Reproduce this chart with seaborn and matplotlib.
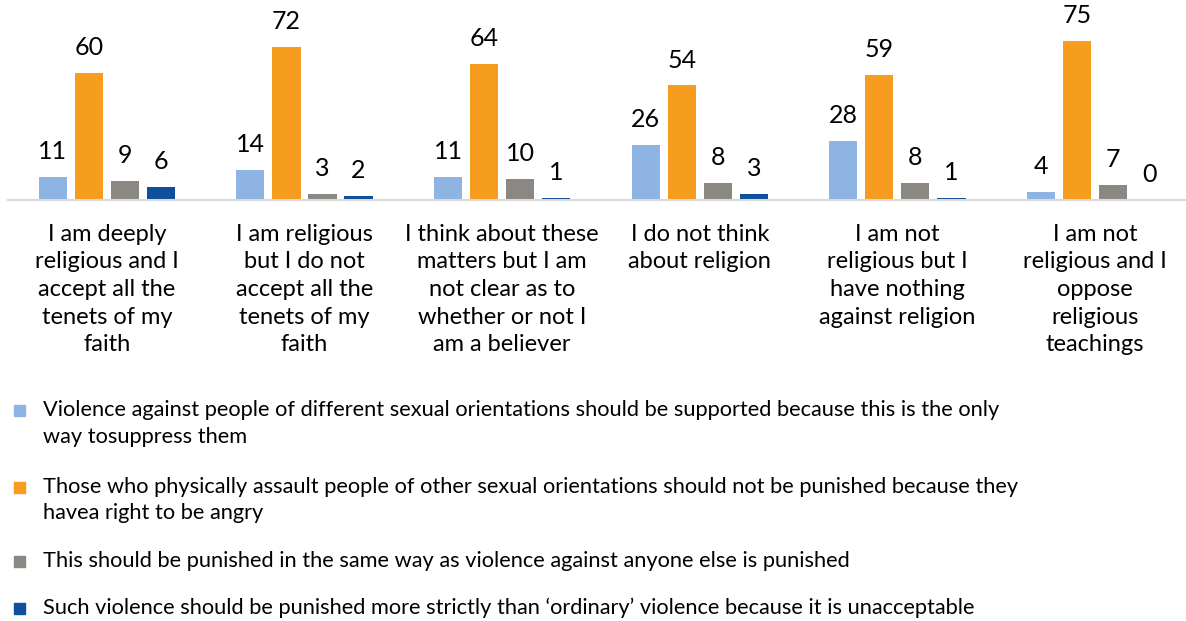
import matplotlib
matplotlib.use("Agg")
import matplotlib.pyplot as plt
from matplotlib.patches import Rectangle
import seaborn as sns
import pandas as pd

categories = [
    "I am deeply\nreligious and I\naccept all the\ntenets of my\nfaith",
    "I am religious\nbut I do not\naccept all the\ntenets of my\nfaith",
    "I think about these\nmatters but I am\nnot clear as to\nwhether or not I\nam a believer",
    "I do not think\nabout religion",
    "I am not\nreligious but I\nhave nothing\nagainst religion",
    "I am not\nreligious and I\noppose\nreligious\nteachings",
]

series_names = [
    "Violence against people of different sexual orientations should be supported because this is the only\nway tosuppress them",
    "Those who physically assault people of other sexual orientations should not be punished because they\nhavea right to be angry",
    "This should be punished in the same way as violence against anyone else is punished",
    "Such violence should be punished more strictly than \u2018ordinary\u2019 violence because it is unacceptable",
]

support_violence = [11, 14, 11, 26, 28, 4]
no_punishment = [60, 72, 64, 54, 59, 75]
same_punishment = [9, 3, 10, 8, 8, 7]
stricter_punishment = [6, 2, 1, 3, 1, 0]

colors = ["#8EB4E3", "#F69C1E", "#8B8782", "#0F4F9C"]

values = [support_violence, no_punishment, same_punishment, stricter_punishment]
rows = []
for name, vals in zip(series_names, values):
    for cat, v in zip(categories, vals):
        rows.append({"category": cat, "series": name, "value": v})
df = pd.DataFrame(rows)

sns.set_theme(style="white")
plt.rcParams["font.family"] = ["Lato", "DejaVu Sans"]

W, H = 1186, 621
fig = plt.figure(figsize=(W / 100, H / 100), dpi=100)
ax = fig.add_axes([8 / W, (H - 200) / H, (W - 8) / W, 200 / H])

sns.barplot(
    data=df, x="category", y="value", hue="series",
    hue_order=series_names, order=categories, palette=colors,
    saturation=1, width=0.729, gap=0.22, linewidth=0,
    legend=False, ax=ax,
)

for container in ax.containers:
    ax.bar_label(container, fmt="%g", padding=10, fontsize=18, color="#000000")

ax.set_xlim(-0.5, 5.46)
ax.set_ylim(0, 94.3)
ax.set_xlabel("")
ax.set_ylabel("")
ax.set_yticks([])
ax.tick_params(axis="x", length=0, pad=17, labelsize=17, labelcolor="#000000")
for lbl in ax.get_xticklabels():
    lbl.set_linespacing(1.39)
for side in ["top", "left", "right"]:
    ax.spines[side].set_visible(False)
ax.spines["bottom"].set_color("#D9D9D9")
ax.spines["bottom"].set_linewidth(1.5)

# legend entries drawn in figure pixel coordinates, one text per line
legend_rows = [[410, 437], [487, 513], [561], [608]]
for rows_y, name, col in zip(legend_rows, series_names, colors):
    first = rows_y[0]
    fig.patches.append(Rectangle((14, H - first - 6), 11, 11, color=col,
                                 transform=None, figure=fig))
    for y, line in zip(rows_y, name.split("\n")):
        fig.text(43 / W, (H - y) / H, line, fontsize=15.7, va="center",
                 ha="left", color="#000000")

fig.savefig("out.png", dpi=100)
